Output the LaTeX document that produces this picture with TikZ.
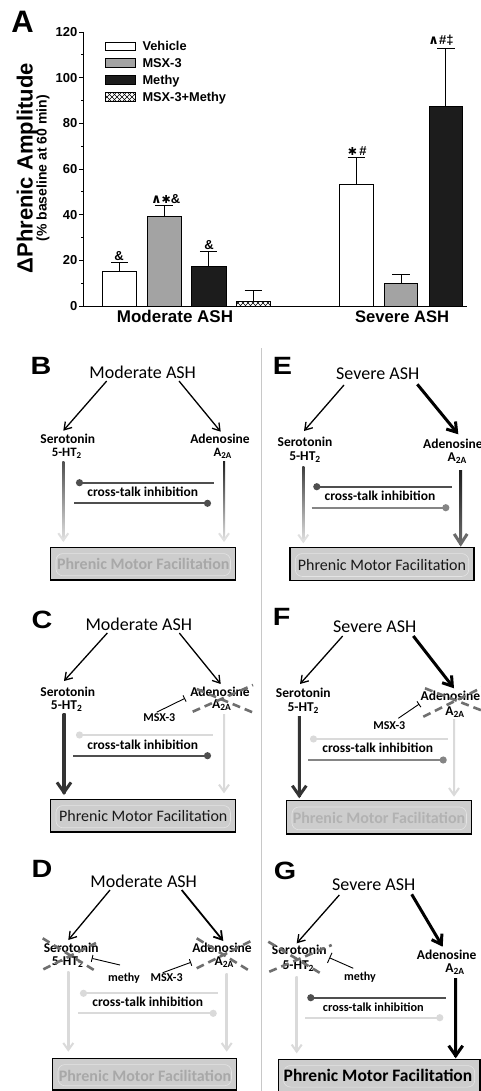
\documentclass[tikz,border=0pt]{standalone}
\usepackage{fontspec}
\setmainfont{Carlito}
\newfontfamily\arialf{Liberation Sans}
\newfontfamily\dejaf{DejaVu Sans}
\usetikzlibrary{arrows.meta,calc}
\newcommand{\fsz}[1]{\fontsize{#1}{#1}\selectfont}
\definecolor{boxfill}{HTML}{CDCDCD}
\definecolor{boxgray}{HTML}{A8A8A8}
\definecolor{dk}{HTML}{4F4F4F}
\definecolor{md}{HTML}{858585}
\definecolor{lt}{HTML}{DADADA}
\definecolor{vdk}{HTML}{333333}
\definecolor{xg}{HTML}{6F6F6F}
\definecolor{sepc}{HTML}{C8C8C8}
\definecolor{msxc}{HTML}{A3A3A3}
\definecolor{methyc}{HTML}{1C1C1C}
\definecolor{glowc}{HTML}{E4E4E4}
% vertical arrow: top coord, tip coord, top colour, bottom colour, width, head length, head width
\newcommand{\varrow}[7]{%
  \shade[top color=#3,bottom color=#4] ($(#1)+(-#5/2,0)$) rectangle ($(#2)+(#5/2,-2)$);
  \draw[draw=#4,line width=#5pt,-{Straight Barb[length=#6pt,width=#7pt]}] ($(#2)+(0,-4)$) -- (#2);
}
\tikzset{
  panellbl/.style={inner sep=0pt, font=\arialf\bfseries\fsz{25}},
  ttl/.style={inner sep=0pt, anchor=base, font=\fsz{18}},
  lbl/.style={inner sep=0pt, anchor=base, font=\bfseries\fsz{13.5}},
  drug/.style={inner sep=0pt, anchor=base, font=\bfseries\fsz{12}},
  thinarr/.style={line width=1.3pt, -{Straight Barb[length=7pt,width=9pt]}},
  medarr/.style={line width=1.8pt, -{Straight Barb[length=8pt,width=10pt]}},
  thickarr/.style={line width=3pt, -{Straight Barb[length=9pt,width=12pt]}},
  xtalk/.style={line width=2.2pt},
  dotstart/.style={{Circle[length=7pt]}-},
  dotend/.style={-{Circle[length=7pt]}},
  inhib/.style={line width=0.9pt, -{Bar[width=7pt]}},
  xdash/.style={line width=2.6pt, draw=xg, dash pattern=on 8pt off 5pt},
  pmfbox/.style={draw=black, line width=1.5pt, fill=boxfill, inner sep=0pt},
  glow/.style={draw=glowc, line width=0.6pt, rounded corners=7pt},
  pmfreg/.style={inner sep=0pt, font=\fsz{16}, text=black!90},
  pmfgray/.style={inner sep=0pt, font=\bfseries\fsz{16}, text=boxgray},
  bar/.style={draw=black, line width=1pt},
  errb/.style={draw=black, line width=1pt},
  ticklbl/.style={anchor=east, inner sep=0pt, font=\arialf\bfseries\fsz{13}},
  leg/.style={anchor=base west, inner sep=0pt, font=\arialf\bfseries\fsz{12.8}},
  sig/.style={anchor=base, inner sep=0pt, font=\arialf\bfseries\fsz{13}}
}
\newcommand{\caretsym}{{\dejaf\bfseries\fsz{13}∧}}
\newcommand{\starsym}{{\dejaf\bfseries\fsz{11}✱}}
\begin{document}
\begin{tikzpicture}[x=1pt,y=-1pt]
\fill[white] (0,0) rectangle (481,1091);
\useasboundingbox (0,0) rectangle (481,1091);

%% ================= Panel A =================
\node[inner sep=0pt, font=\arialf\bfseries\fsz{31}] (pA) at (22.5,21.7) {A};
\node[rotate=90, inner sep=0pt, font=\arialf\bfseries\fsz{22}] (ytitle) at (27,168.3) {ΔPhrenic Amplitude};
\node[rotate=90, inner sep=0pt, font=\arialf\bfseries\fsz{14}] (ysub) at (43,168.3) {(\% baseline at 60 min)};
\draw[line width=1pt] (83,32) -- (83,306) -- (467,306);
\foreach \v in {0,20,...,120} {
  \draw[line width=1pt] (83,{306-2.2833*\v}) -- (79,{306-2.2833*\v});
  \node[ticklbl] (tick\v) at (77.5,{306-2.2833*\v}) {\v};
}
\foreach \v in {10,30,...,110} \draw[line width=0.8pt] (83,{306-2.2833*\v}) -- (80.5,{306-2.2833*\v});

% legend
\draw[bar, fill=white] (105,42.3) rectangle (135,51);
\draw[bar, fill=msxc] (105,59) rectangle (135,67.7);
\draw[bar, fill=methyc] (105,76) rectangle (135,84.7);
\begin{scope}
  \clip (105,93) rectangle (135,101.7);
  \foreach \i in {-15,-10,...,35} {
    \draw[line width=0.5pt] ({105+\i},90) -- ({105+\i+14},104);
    \draw[line width=0.5pt] ({105+\i},104) -- ({105+\i+14},90);
  }
\end{scope}
\draw[bar] (105,93) rectangle (135,101.7);
\node[leg] (lg1) at (142.3,51) {Vehicle};
\node[leg] (lg2) at (142.3,67.7) {MSX-3};
\node[leg] (lg3) at (142.3,84.7) {Methy};
\node[leg] (lg4) at (142.3,101.7) {MSX-3+Methy};

% bars moderate
\draw[bar, fill=white] (102.7,306) rectangle (136.7,271.7);
\draw[errb] (119.7,271.7) -- (119.7,262) (111,262) -- (128.4,262);
\draw[bar, fill=msxc] (147.7,306) rectangle (181,216.3);
\draw[errb] (164.35,216.3) -- (164.35,205.7) (155.4,205.7) -- (173.3,205.7);
\draw[bar, fill=methyc] (191,306) rectangle (226.3,266.7);
\draw[errb] (208.65,266.7) -- (208.65,251.7) (199.9,251.7) -- (217.4,251.7);
\begin{scope}
  \clip (236,306) rectangle (270.7,301.7);
  \foreach \i in {-15,-10,...,40} {
    \draw[line width=0.5pt] ({236+\i},296) -- ({236+\i+14},310);
    \draw[line width=0.5pt] ({236+\i},310) -- ({236+\i+14},296);
  }
\end{scope}
\draw[bar] (236,306) rectangle (270.7,301.7);
\draw[errb] (253.35,301.7) -- (253.35,290.7) (244.6,290.7) -- (262.1,290.7);
% bars severe
\draw[bar, fill=white] (339.3,306) rectangle (373.3,184.3);
\draw[errb] (356.3,184.3) -- (356.3,157.3) (347.5,157.3) -- (365.1,157.3);
\draw[bar, fill=msxc] (384.3,306) rectangle (417.7,283.3);
\draw[errb] (401,283.3) -- (401,274.3) (392.2,274.3) -- (409.8,274.3);
\draw[bar, fill=methyc] (429,306) rectangle (462.7,106.7);
\draw[errb] (445.85,106.7) -- (445.85,48.3) (437,48.3) -- (454.7,48.3);

% significance
\node[sig] (s1) at (119,260) {\&};
\node[sig] (s2) at (165.7,203.3) {\caretsym\starsym\&};
\node[sig] (s3) at (209,249.3) {\&};
\node[sig] (s4) at (357.3,155.7) {\starsym\,\#};
\node[sig] (s5) at (441,45) {\caretsym\#‡};

\node[anchor=base, inner sep=0pt, font=\arialf\bfseries\fsz{17}] (xl1) at (175,322.7) {Moderate ASH};
\node[anchor=base, inner sep=0pt, font=\arialf\bfseries\fsz{16.6}] (xl2) at (402.2,322.7) {Severe ASH};

%% separator
\draw[draw=sepc, line width=1pt] (261,348) -- (261,1091);

%% ================= Panel B =================
\node[panellbl] (pB) at (41,366) {\scalebox{1.15}[1]{B}};
\node[ttl] (tB) at (142.7,378.3) {Moderate ASH};
\coordinate (tBl) at (106.7,381); \coordinate (tBr) at (179,381);
\coordinate (sBt) at (63.3,430.7); \coordinate (aBt) at (220.7,431.7);
\draw[thinarr] (tBl) -- (sBt);
\draw[thinarr] (tBr) -- (aBt);
\node[lbl] (sB) at (67.8,443.5) {Serotonin};
\node[lbl, font=\bfseries\fsz{12.8}] (hB) at (66.7,456.5) {5-HT\textsubscript{2}};
\node[lbl] (aB) at (220,443.5) {Adenosine};
\node[lbl, font=\bfseries\fsz{12.8}] (rB) at (222.7,456.5) {A\textsubscript{2A}};
\coordinate (vBl1) at (63.3,461); \coordinate (vBl2) at (63.3,542);
\coordinate (vBr1) at (224,461); \coordinate (vBr2) at (224,542);
\varrow{vBl1}{vBl2}{dk}{black!12}{2}{7}{10}
\varrow{vBr1}{vBr2}{black!88}{black!12}{2}{7}{10}
\coordinate (cB1) at (76,482.7); \coordinate (cB2) at (214,482.7);
\coordinate (cB3) at (74,503.3); \coordinate (cB4) at (211,503.3);
\draw[xtalk, dk, dotstart] (cB1) -- (cB2);
\draw[xtalk, dk, dotend] (cB3) -- (cB4);
\node[lbl] (xB) at (142.7,496.7) {cross-talk inhibition};
\node[pmfbox, minimum width=185pt, minimum height=32.7pt] (bB) at (143.2,563.65) {};
\draw[glow] ($(bB.north west)+(6,7)$) rectangle ($(bB.south east)+(-6,-5)$);
\node[pmfgray] (fB) at (143.3,563.9) {Phrenic Motor Facilitation};

%% ================= Panel C =================
\node[panellbl] (pC) at (42,620) {\scalebox{1.15}[1]{C}};
\node[ttl] (tC) at (138.8,630) {Moderate ASH};
\coordinate (tCl) at (107.3,633); \coordinate (tCr) at (179.3,633);
\coordinate (sCt) at (64,681); \coordinate (aCt) at (220.7,684);
\draw[thinarr] (tCl) -- (sCt);
\draw[thinarr] (tCr) -- (aCt);
\node[lbl] (sC) at (67.8,696) {Serotonin};
\node[lbl] (hC) at (66.7,709.3) {5-HT\textsubscript{2}};
\node[lbl] (aC) at (220,696) {Adenosine};
\node[lbl] (rC) at (221.7,708.3) {A\textsubscript{2A}};
\coordinate (xC1) at (192.7,711.7); \coordinate (xC2) at (253,685);
\coordinate (xC3) at (196.7,689); \coordinate (xC4) at (253,712.5);
\draw[xdash] (xC1) -- (xC2);
\draw[xdash] (xC3) -- (xC4);
\node[drug] (mC) at (159.3,721.7) {MSX-3};
\coordinate (iC1) at (156.7,712.2); \coordinate (iC2) at (185,698.3);
\draw[inhib] (iC1) -- (iC2);
\coordinate (vCl1) at (64,713.3); \coordinate (vCl2) at (64,795);
\coordinate (vCr1) at (224,714.3); \coordinate (vCr2) at (224,793.3);
\varrow{vCl1}{vCl2}{vdk}{vdk}{3}{10}{14}
\varrow{vCr1}{vCr2}{lt}{lt}{2}{7}{10}
\coordinate (cC1) at (76,735); \coordinate (cC2) at (213.3,735);
\coordinate (cC3) at (73.3,755.7); \coordinate (cC4) at (211,755.7);
\draw[xtalk, lt, dotstart] (cC1) -- (cC2);
\draw[xtalk, dk, dotend] (cC3) -- (cC4);
\node[lbl] (xC) at (142.7,749) {cross-talk inhibition};
\node[pmfbox, minimum width=185pt, minimum height=32.7pt] (bC) at (143.2,815.65) {};
\draw[glow] ($(bC.north west)+(6,7)$) rectangle ($(bC.south east)+(-6,-5)$);
\node[pmfreg] (fC) at (143.3,815.9) {Phrenic Motor Facilitation};

%% ================= Panel D =================
\node[panellbl] (pD) at (42,869) {\scalebox{1.15}[1]{D}};
\node[ttl] (tD) at (143.7,887.3) {Moderate ASH};
\coordinate (tDl) at (110,890); \coordinate (tDr) at (181.7,890);
\coordinate (sDt) at (68.3,940); \coordinate (aDt) at (223.3,941);
\draw[thinarr] (tDl) -- (sDt);
\draw[medarr] (tDr) -- (aDt);
\node[lbl] (sD) at (71.2,952.7) {Serotonin};
\node[lbl] (hD) at (67.7,965.7) {5-HT\textsubscript{2}};
\node[lbl] (aD) at (222,952.7) {Adenosine};
\node[lbl] (rD) at (224.3,965.7) {A\textsubscript{2A}};
\coordinate (xD1) at (42.7,938.3); \coordinate (xD2) at (96.7,971.7);
\coordinate (xD3) at (43.3,969.3); \coordinate (xD4) at (96,943);
\draw[xdash] (xD1) -- (xD2);
\draw[xdash] (xD3) -- (xD4);
\coordinate (xD5) at (196.7,938.3); \coordinate (xD6) at (251,971.7);
\coordinate (xD7) at (196.7,968.3); \coordinate (xD8) at (251,941);
\draw[xdash] (xD5) -- (xD6);
\draw[xdash] (xD7) -- (xD8);
\node[drug] (eD) at (124,981.7) {methy};
\coordinate (iD1) at (120,965); \coordinate (iD2) at (91.7,958.3);
\draw[inhib] (iD1) -- (iD2);
\node[drug] (mD) at (166.7,981.7) {MSX-3};
\coordinate (iD3) at (162.7,972.7); \coordinate (iD4) at (191,962.3);
\draw[inhib] (iD3) -- (iD4);
\coordinate (vDl1) at (68.3,971.7); \coordinate (vDl2) at (68.3,1051.7);
\coordinate (vDr1) at (226.7,973.3); \coordinate (vDr2) at (226.7,1051.7);
\varrow{vDl1}{vDl2}{lt}{lt}{2}{7}{10}
\varrow{vDr1}{vDr2}{lt}{lt}{2}{7}{10}
\coordinate (cD1) at (80,993.3); \coordinate (cD2) at (218.3,993.3);
\coordinate (cD3) at (78.3,1013.3); \coordinate (cD4) at (216.7,1013.3);
\draw[xtalk, lt, dotstart] (cD1) -- (cD2);
\draw[xtalk, lt, dotend] (cD3) -- (cD4);
\node[lbl] (xD) at (147.7,1006.7) {cross-talk inhibition};
\node[pmfbox, minimum width=184pt, minimum height=31.7pt] (bD) at (144.7,1074.15) {};
\draw[glow] ($(bD.north west)+(6,7)$) rectangle ($(bD.south east)+(-6,-5)$);
\node[pmfgray] (fD) at (145,1075.5) {Phrenic Motor Facilitation};

%% ================= Panel E =================
\node[panellbl] (pE) at (282.5,366) {\scalebox{1.15}[1]{E}};
\node[ttl] (tE) at (377.7,379.3) {Severe ASH};
\coordinate (tEl) at (344,385); \coordinate (tEr) at (417.3,384.3);
\coordinate (sEt) at (304,431); \coordinate (aEt) at (458.3,434.3);
\draw[thinarr] (tEl) -- (sEt);
\draw[thickarr] (tEr) -- (aEt);
\node[lbl] (sE) at (305,446) {Serotonin};
\node[lbl] (hE) at (305,460) {5-HT\textsubscript{2}};
\node[lbl, anchor=base west] (aE) at (423,448.3) {Adenosine};
\node[lbl] (rE) at (457.3,461.7) {A\textsubscript{2A}};
\coordinate (vEl1) at (303.3,466.7); \coordinate (vEl2) at (303.3,543.3);
\coordinate (vEr1) at (460.7,470); \coordinate (vEr2) at (460.7,546.7);
\varrow{vEl1}{vEl2}{black!75}{black!12}{2}{7}{10}
\varrow{vEr1}{vEr2}{black!88}{black!58}{3}{10}{13}
\coordinate (cE1) at (313.3,486.7); \coordinate (cE2) at (451.7,486.7);
\coordinate (cE3) at (311.7,507.7); \coordinate (cE4) at (449.3,507.7);
\draw[xtalk, dk, dotstart] (cE1) -- (cE2);
\draw[xtalk, md, dotend] (cE3) -- (cE4);
\node[lbl] (xE) at (380,500.7) {cross-talk inhibition};
\node[pmfbox, minimum width=184pt, minimum height=33.4pt] (bE) at (382,564) {};
\draw[glow] ($(bE.north west)+(6,7)$) rectangle ($(bE.south east)+(-6,-5)$);
\node[pmfreg] (fE) at (382,564.5) {Phrenic Motor Facilitation};

%% ================= Panel F =================
\node[panellbl] (pF) at (281.7,616.7) {\scalebox{1.15}[1]{F}};
\node[ttl] (tF) at (374.7,632.7) {Severe ASH};
\coordinate (tFl) at (342.7,636); \coordinate (tFr) at (413.3,636);
\coordinate (sFt) at (300,684); \coordinate (aFt) at (454,688.3);
\draw[thinarr] (tFl) -- (sFt);
\draw[thickarr] (tFr) -- (aFt);
\node[lbl] (sF) at (303.3,697.3) {Serotonin};
\node[lbl] (hF) at (303.3,711.7) {5-HT\textsubscript{2}};
\node[lbl, anchor=base west] (aF) at (420.5,700) {Adenosine};
\node[lbl] (rF) at (455,715) {A\textsubscript{2A}};
\coordinate (xF1) at (423.3,716.7); \coordinate (xF2) at (483,687);
\coordinate (xF3) at (425,688.3); \coordinate (xF4) at (483,711);
\draw[xdash] (xF1) -- (xF2);
\draw[xdash] (xF3) -- (xF4);
\node[drug] (mF) at (389.3,729.3) {MSX-3};
\coordinate (iF1) at (398.3,718.3); \coordinate (iF2) at (419.3,704);
\draw[inhib] (iF1) -- (iF2);
\coordinate (vFl1) at (299.3,716); \coordinate (vFl2) at (299.3,798.3);
\coordinate (vFr1) at (454,719.3); \coordinate (vFr2) at (454,796.7);
\varrow{vFl1}{vFl2}{vdk}{vdk}{3}{10}{14}
\varrow{vFr1}{vFr2}{lt}{lt}{2}{7}{10}
\coordinate (cF1) at (310,739); \coordinate (cF2) at (448.3,739);
\coordinate (cF3) at (308.3,760); \coordinate (cF4) at (446.7,760);
\draw[xtalk, lt, dotstart] (cF1) -- (cF2);
\draw[xtalk, md, dotend] (cF3) -- (cF4);
\node[lbl] (xF) at (377.7,752.7) {cross-talk inhibition};
\node[pmfbox, minimum width=185pt, minimum height=33.3pt] (bF) at (379.2,817.35) {};
\draw[glow] ($(bF.north west)+(6,7)$) rectangle ($(bF.south east)+(-6,-5)$);
\node[pmfgray, text=black!30] (fF) at (379,818) {Phrenic Motor Facilitation};

%% ================= Panel G =================
\node[panellbl] (pG) at (285,871) {\scalebox{1.15}[1]{G}};
\node[ttl] (tG) at (373.7,890.7) {Severe ASH};
\coordinate (tGl) at (339.3,895); \coordinate (tGr) at (411.7,894.3);
\coordinate (sGt) at (296.7,943.3); \coordinate (aGt) at (442.7,946.7);
\draw[thinarr] (tGl) -- (sGt);
\draw[thickarr] (tGr) -- (aGt);
\node[lbl] (sG) at (299.3,954) {Serotonin};
\node[lbl] (hG) at (298.3,969.3) {5-HT\textsubscript{2}};
\node[lbl] (aG) at (446.7,959.3) {Adenosine};
\node[lbl] (rG) at (455,972.7) {A\textsubscript{2A}};
\coordinate (xG1) at (268.3,941.7); \coordinate (xG2) at (321.7,974);
\coordinate (xG3) at (269.3,971.7); \coordinate (xG4) at (331.7,945);
\draw[xdash] (xG1) -- (xG2);
\draw[xdash] (xG3) -- (xG4);
\node[drug] (eG) at (360,980) {methy};
\coordinate (iG1) at (353.3,968.3); \coordinate (iG2) at (329.3,957.7);
\draw[inhib, -{Bar[width=11pt]}] (iG1) -- (iG2);
\coordinate (vGl1) at (296.7,976.7); \coordinate (vGl2) at (296.7,1053.3);
\coordinate (vGr1) at (455.7,978.3); \coordinate (vGr2) at (455.7,1058.3);
\varrow{vGl1}{vGl2}{lt}{lt}{2}{7}{10}
\varrow{vGr1}{vGr2}{black}{black}{3}{10}{14}
\coordinate (cG1) at (307.3,997.7); \coordinate (cG2) at (446,997.7);
\coordinate (cG3) at (305,1017.7); \coordinate (cG4) at (443.3,1017.7);
\draw[xtalk, dk, dotstart] (cG1) -- (cG2);
\draw[xtalk, lt, dotend] (cG3) -- (cG4);
\node[lbl, font=\bfseries\fsz{12.3}] (xG) at (373.3,1011.7) {cross-talk inhibition};
\node[pmfbox, minimum width=201.7pt, minimum height=32pt] (bG) at (379.15,1075.3) {};
\draw[glow] ($(bG.north west)+(6,7)$) rectangle ($(bG.south east)+(-6,-5)$);
\node[inner sep=0pt, font=\bfseries\fsz{17.5}, text=black] (fG) at (378,1075.5) {Phrenic Motor Facilitation};
\end{tikzpicture}
\end{document}
